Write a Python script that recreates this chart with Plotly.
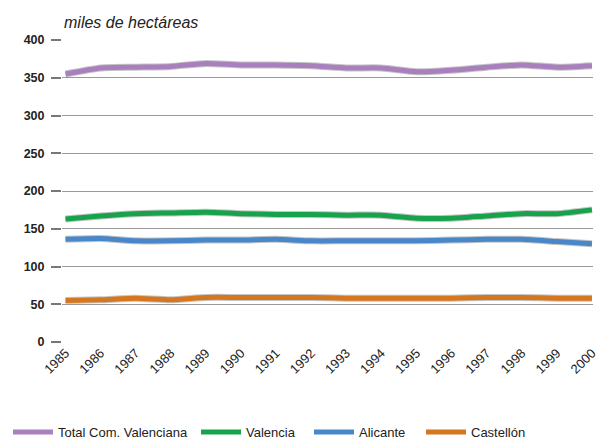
import plotly.graph_objects as go

years = list(range(1985, 2001))

total = [355, 363, 364, 365, 369, 367, 367, 366, 363, 363, 358, 360, 364, 367, 364, 366]
valencia = [163, 167, 170, 171, 172, 170, 169, 169, 168, 168, 164, 164, 167, 170, 170, 175]
alicante = [136, 137, 134, 134, 135, 135, 136, 134, 134, 134, 134, 135, 136, 136, 133, 130]
castellon = [55, 56, 58, 56, 59, 59, 59, 59, 58, 58, 58, 58, 59, 59, 58, 58]

series = [
    ("Total Com. Valenciana", total, "#a97fbe", "legend", 0),
    ("Valencia", valencia, "#17a24c", "legend2", 188),
    ("Alicante", alicante, "#4a87c9", "legend3", 301),
    ("Castellón", castellon, "#d5771f", "legend4", 413),
]

# the page body adds an 8px offset, so the figure is 8px smaller than the window
W, H = 607, 433
L, R, T, B = 54, 22, 32, 99
pw, ph = W - L - R, H - T - B

fig = go.Figure()
legends = {}
for name, vals, color, leg, px in series:
    # soft grey shadow under each line
    fig.add_trace(go.Scatter(x=years, y=vals, mode="lines", showlegend=False,
                             hoverinfo="skip",
                             line=dict(color="rgba(90,90,90,0.35)", width=7,
                                       shape="spline", smoothing=0.6)))
    fig.add_trace(go.Scatter(x=years, y=vals, mode="lines", name=name, legend=leg,
                             line=dict(color=color, width=5,
                                       shape="spline", smoothing=0.6)))
    legends[leg] = dict(x=(px - L) / pw, xanchor="left",
                        y=-90 / ph, yanchor="middle",
                        orientation="h", itemwidth=40, bgcolor="rgba(0,0,0,0)",
                        font=dict(family="Liberation Sans, Arial", size=13, color="#222"))

fig.update_layout(
    width=W, height=H,
    margin=dict(l=L, r=R, t=T, b=B, autoexpand=False),
    paper_bgcolor="white", plot_bgcolor="white",
    font=dict(family="Liberation Sans, Arial, sans-serif", color="#222"),
    showlegend=True,
    annotations=[dict(text="<i>miles de hectáreas</i>", xref="paper", yref="paper",
                      x=0.0, y=1.0, xanchor="left", yanchor="bottom", yshift=7,
                      showarrow=False, font=dict(size=16, color="#222"))],
    **legends,
)
fig.update_xaxes(range=[1984.9, 2000.03], tickmode="array", tickvals=years,
                 ticktext=[str(y) for y in years], tickangle=-45, automargin=False,
                 tickfont=dict(size=13, color="#222"), showgrid=False,
                 showline=False, zeroline=False, ticks="")
fig.update_yaxes(range=[0, 400], dtick=50, showgrid=True, gridcolor="#9a9a9a",
                 gridwidth=1, zeroline=False, showline=False, automargin=False,
                 ticks="outside", ticklen=10, tickcolor="#777", tickwidth=2,
                 ticklabelstandoff=4,
                 tickfont=dict(size=12.5, color="#222", weight="bold"))

fig.write_html("out.html")
